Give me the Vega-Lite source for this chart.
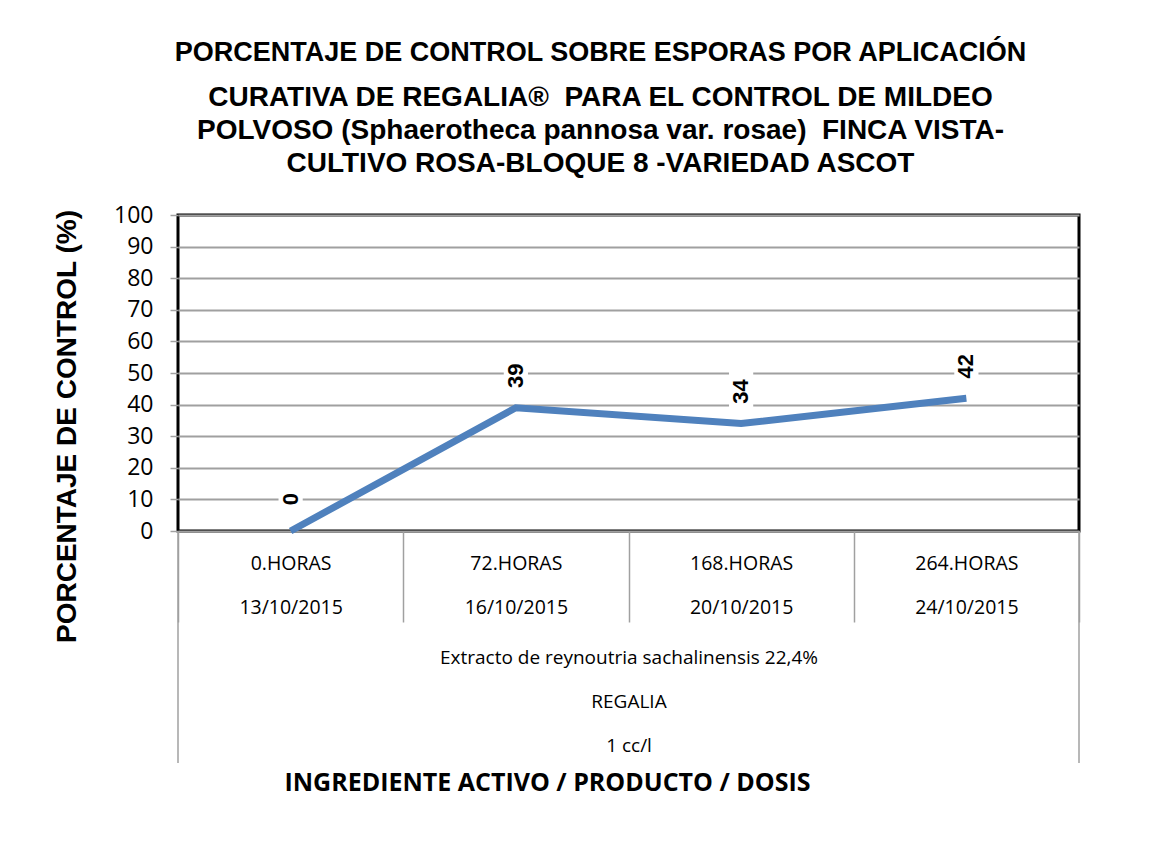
{
  "$schema": "https://vega.github.io/schema/vega-lite/v6.json",
  "width": 901,
  "height": 316,
  "autosize": {"type": "none"},
  "padding": {"left": 178, "top": 215, "right": 97, "bottom": 331},
  "background": "white",
  "config": {"view": {"stroke": "black", "strokeWidth": 3}},
  "title": {
    "text": "PORCENTAJE DE CONTROL SOBRE ESPORAS POR APLICACIÓN",
    "subtitle": ["CURATIVA DE REGALIA®\u00a0 PARA EL CONTROL DE MILDEO", "POLVOSO (Sphaerotheca pannosa var. rosae)\u00a0 FINCA VISTA-", "CULTIVO ROSA-BLOQUE 8 -VARIEDAD ASCOT"],
    "font": "Liberation Sans",
    "fontSize": 27,
    "fontWeight": "bold",
    "color": "black",
    "subtitleFont": "Liberation Sans",
    "subtitleFontSize": 28,
    "subtitleFontWeight": "bold",
    "subtitleColor": "black",
    "subtitleLineHeight": 33,
    "subtitlePadding": 17,
    "anchor": "middle",
    "dx": -28,
    "offset": 25
  },
  "data": {
    "values": [
      {"tiempo": "0.HORAS|13/10/2015", "control": 0},
      {"tiempo": "72.HORAS|16/10/2015", "control": 39},
      {"tiempo": "168.HORAS|20/10/2015", "control": 34},
      {"tiempo": "264.HORAS|24/10/2015", "control": 42}
    ]
  },
  "resolve": {"axis": {"x": "independent"}},
  "layer": [
    {
      "mark": {"type": "point", "shape": "M-0.55,-1L0.55,-1L0.55,1L-0.55,1Z", "filled": true, "fill": "white", "opacity": 1, "strokeWidth": 0, "size": 1936, "yOffset": -32},
      "encoding": {
        "x": {
          "field": "tiempo", "type": "nominal", "sort": null, "bandPosition": 0.5,
          "scale": {"type": "band", "paddingInner": 0, "paddingOuter": 0, "domain": ["0.HORAS|13/10/2015", "72.HORAS|16/10/2015", "168.HORAS|20/10/2015", "264.HORAS|24/10/2015"]},
          "axis": {
            "orient": "bottom",
            "title": ["Extracto de reynoutria sachalinensis 22,4%", "REGALIA", "1 cc/l"],
            "titleFont": "Open Sans", "titleFontSize": 19, "titleFontWeight": "normal", "titleColor": "black",
            "titleLineHeight": 44, "titleBaseline": "middle", "titleY": 126,
            "labelExpr": "split(datum.label, '|')", "labelAngle": 0,
            "labelFont": "Open Sans", "labelFontSize": 19.5, "labelColor": "black",
            "labelLineHeight": 44, "labelBaseline": "middle", "labelPadding": -59,
            "tickBand": "extent", "tickSize": 91, "tickColor": "#a0a0a0", "tickWidth": 1.5,
            "domain": false, "grid": false
          }
        },
        "y": {
          "field": "control", "type": "quantitative",
          "scale": {"domain": [0, 100], "nice": false},
          "axis": {
            "title": "PORCENTAJE DE CONTROL (%)",
            "titleFont": "Liberation Sans", "titleFontSize": 28, "titleFontWeight": "bold", "titleColor": "black",
            "titlePadding": 32, "titleY": 211,
            "values": [0, 10, 20, 30, 40, 50, 60, 70, 80, 90, 100], "tickCount": 12, "labelOverlap": false,
            "labelFont": "Open Sans", "labelFontSize": 23, "labelColor": "black", "labelPadding": 17,
            "tickSize": 8, "tickColor": "#a0a0a0", "tickWidth": 1.5,
            "grid": true, "gridColor": "#a0a0a0", "gridWidth": 2,
            "domain": false
          }
        }
      }
    },
    {
      "mark": {"type": "line", "color": "#4f81bd", "strokeWidth": 7, "strokeCap": "butt"},
      "encoding": {
        "x": {"field": "tiempo", "type": "nominal", "sort": null, "bandPosition": 0.5, "axis": null},
        "y": {
          "field": "control", "type": "quantitative",
          "axis": {
            "title": "PORCENTAJE DE CONTROL (%)",
            "titleFont": "Liberation Sans", "titleFontSize": 28, "titleFontWeight": "bold", "titleColor": "black",
            "titlePadding": 32, "titleY": 211,
            "values": [0, 10, 20, 30, 40, 50, 60, 70, 80, 90, 100], "tickCount": 12, "labelOverlap": false,
            "labelFont": "Open Sans", "labelFontSize": 23, "labelColor": "black", "labelPadding": 17,
            "tickSize": 8, "tickColor": "#a0a0a0", "tickWidth": 1.5,
            "grid": true, "gridColor": "#a0a0a0", "gridWidth": 2,
            "domain": false
          }
        }
      }
    },
    {
      "mark": {"type": "text", "angle": 270, "align": "center", "baseline": "middle", "dx": 32, "font": "Liberation Sans", "fontSize": 22, "fontWeight": "bold", "color": "black"},
      "encoding": {
        "x": {"field": "tiempo", "type": "nominal", "sort": null, "bandPosition": 0.5, "axis": null},
        "y": {
          "field": "control", "type": "quantitative",
          "axis": {
            "title": "PORCENTAJE DE CONTROL (%)",
            "titleFont": "Liberation Sans", "titleFontSize": 28, "titleFontWeight": "bold", "titleColor": "black",
            "titlePadding": 32, "titleY": 211,
            "values": [0, 10, 20, 30, 40, 50, 60, 70, 80, 90, 100], "tickCount": 12, "labelOverlap": false,
            "labelFont": "Open Sans", "labelFontSize": 23, "labelColor": "black", "labelPadding": 17,
            "tickSize": 8, "tickColor": "#a0a0a0", "tickWidth": 1.5,
            "grid": true, "gridColor": "#a0a0a0", "gridWidth": 2,
            "domain": false
          }
        },
        "text": {"field": "control", "type": "quantitative"}
      }
    },
    {
      "transform": [{"filter": "datum.tiempo == '0.HORAS|13/10/2015'"}],
      "mark": {"type": "rule", "color": "#a0a0a0", "strokeWidth": 1.5},
      "encoding": {
        "x": {
          "field": "tiempo", "type": "nominal", "sort": null, "bandPosition": 0,
          "axis": {
            "orient": "bottom", "labels": false, "ticks": false, "domain": false, "grid": false,
            "title": "INGREDIENTE ACTIVO / PRODUCTO / DOSIS",
            "titleFont": "Open Sans", "titleFontSize": 25, "titleFontWeight": "bold", "titleColor": "black",
            "titleX": 369, "titleY": 251, "titleBaseline": "middle", "titleAlign": "center"
          }
        },
        "y": {
          "datum": 0, "type": "quantitative",
          "axis": {
            "title": "PORCENTAJE DE CONTROL (%)",
            "titleFont": "Liberation Sans", "titleFontSize": 28, "titleFontWeight": "bold", "titleColor": "black",
            "titlePadding": 32, "titleY": 211,
            "values": [0, 10, 20, 30, 40, 50, 60, 70, 80, 90, 100], "tickCount": 12, "labelOverlap": false,
            "labelFont": "Open Sans", "labelFontSize": 23, "labelColor": "black", "labelPadding": 17,
            "tickSize": 8, "tickColor": "#a0a0a0", "tickWidth": 1.5,
            "grid": true, "gridColor": "#a0a0a0", "gridWidth": 2,
            "domain": false
          }
        },
        "y2": {"datum": -73.4}
      }
    },
    {
      "transform": [{"filter": "datum.tiempo == '264.HORAS|24/10/2015'"}],
      "mark": {"type": "rule", "color": "#a0a0a0", "strokeWidth": 1.5},
      "encoding": {
        "x": {"field": "tiempo", "type": "nominal", "sort": null, "bandPosition": 1, "axis": null},
        "y": {
          "datum": 0, "type": "quantitative",
          "axis": {
            "title": "PORCENTAJE DE CONTROL (%)",
            "titleFont": "Liberation Sans", "titleFontSize": 28, "titleFontWeight": "bold", "titleColor": "black",
            "titlePadding": 32, "titleY": 211,
            "values": [0, 10, 20, 30, 40, 50, 60, 70, 80, 90, 100], "tickCount": 12, "labelOverlap": false,
            "labelFont": "Open Sans", "labelFontSize": 23, "labelColor": "black", "labelPadding": 17,
            "tickSize": 8, "tickColor": "#a0a0a0", "tickWidth": 1.5,
            "grid": true, "gridColor": "#a0a0a0", "gridWidth": 2,
            "domain": false
          }
        },
        "y2": {"datum": -73.4}
      }
    }
  ]
}
